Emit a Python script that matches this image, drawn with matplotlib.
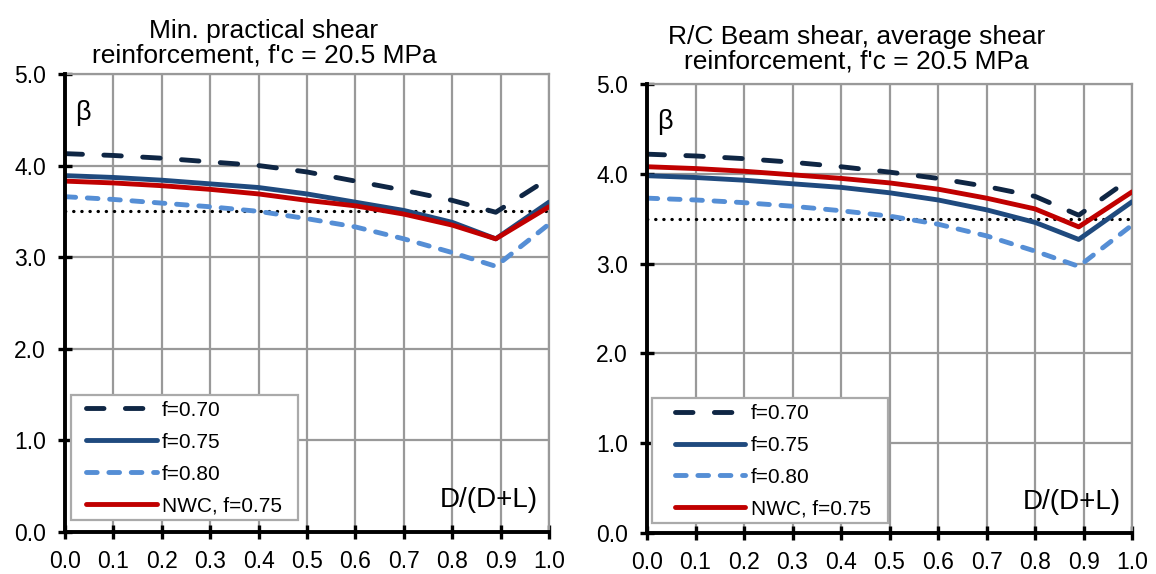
import numpy as np
import matplotlib.pyplot as plt
from matplotlib.patches import Rectangle

plt.rcParams['font.family'] = ['Liberation Sans', 'DejaVu Sans']

# D/(D+L) points
x = [0.0, 0.1, 0.2, 0.3, 0.4, 0.5, 0.6, 0.7, 0.8, 0.89, 1.0]

# left: min. practical shear reinforcement
left_f070 = [4.13, 4.11, 4.08, 4.04, 4.00, 3.93, 3.83, 3.73, 3.62, 3.49, 3.86]
left_f075 = [3.89, 3.87, 3.84, 3.80, 3.76, 3.69, 3.60, 3.51, 3.38, 3.20, 3.60]
left_f080 = [3.66, 3.63, 3.59, 3.55, 3.50, 3.42, 3.33, 3.20, 3.05, 2.90, 3.36]
left_nwc = [3.83, 3.81, 3.78, 3.74, 3.69, 3.62, 3.56, 3.47, 3.35, 3.20, 3.55]

# right: average shear reinforcement
right_f070 = [4.22, 4.20, 4.17, 4.13, 4.08, 4.02, 3.95, 3.86, 3.75, 3.54, 3.96]
right_f075 = [3.98, 3.96, 3.93, 3.89, 3.85, 3.79, 3.71, 3.60, 3.46, 3.27, 3.69]
right_f080 = [3.73, 3.71, 3.68, 3.64, 3.59, 3.53, 3.44, 3.31, 3.14, 2.97, 3.43]
right_nwc = [4.08, 4.06, 4.03, 3.99, 3.95, 3.90, 3.83, 3.73, 3.61, 3.41, 3.80]

target = 3.5
labels = ["f=0.70", "f=0.75", "f=0.80", "NWC, f=0.75"]
titles = ["Min. practical shear\nreinforcement, f'c = 20.5 MPa",
          "R/C Beam shear, average shear\nreinforcement, f'c = 20.5 MPa"]

fig = plt.figure(figsize=(11.56, 5.74), dpi=100)
ax1 = fig.add_axes([0.0562, 0.0732, 0.4187, 0.798])
ax2 = fig.add_axes([0.5597, 0.0714, 0.4196, 0.782])

# legend placement per panel: (handle x, text bottom y), frame (x0, y0, x1, y1)
leg_anchor = [(0.043, 0.036), (0.057, 0.032)]
leg_frame = [(0.0117, 0.026, 0.4814, 0.299), (0.0097, 0.0216, 0.497, 0.300)]
title_pad = [8, 11]
title_x = [0.411, 0.432]

lw = 3.5
panels = [(ax1, [left_f070, left_f075, left_f080, left_nwc]),
          (ax2, [right_f070, right_f075, right_f080, right_nwc])]
for i, (ax, data) in enumerate(panels):
    ax.plot([0, 1], [target, target], color='black', lw=2.3, ls=(0, (0.1, 2.45)),
            dash_capstyle='round', zorder=3)
    ax.plot(x, data[0], color='#0f2644', lw=lw, ls=(0, (3.6, 4.4)),
            dash_capstyle='round', label=labels[0], zorder=4)
    ax.plot(x, data[1], color='#1f4a7e', lw=lw, solid_capstyle='round',
            label=labels[1], zorder=4)
    ax.plot(x, data[2], color='#558ed5', lw=lw, ls=(0, (2.2, 2.4)),
            dash_capstyle='round', label=labels[2], zorder=4)
    ax.plot(x, data[3], color='#c00000', lw=lw, solid_capstyle='round',
            label=labels[3], zorder=5)

    ax.set_xlim(0, 1)
    ax.set_ylim(0, 5)
    ax.set_xticks(np.arange(0, 1.01, 0.1))
    ax.set_yticks(np.arange(0, 5.01, 1.0))
    ax.xaxis.set_major_formatter(plt.FormatStrFormatter('%.1f'))
    ax.yaxis.set_major_formatter(plt.FormatStrFormatter('%.1f'))
    ax.grid(True, color='#999999', lw=1.6)
    ax.set_axisbelow(True)
    ax.tick_params(direction='inout', length=9.5, width=2.4, labelsize=16.5)
    ax.tick_params(axis='y', pad=9)
    ax.tick_params(axis='x', pad=8)
    for s in ['left', 'bottom']:
        ax.spines[s].set_color('black')
        ax.spines[s].set_linewidth(2.8)
        ax.spines[s].set_zorder(6)
    for s in ['top', 'right']:
        ax.spines[s].set_color('#999999')
        ax.spines[s].set_linewidth(1.6)
    ax.set_title(titles[i], fontsize=19, linespacing=1.06, pad=title_pad[i],
                 x=title_x[i])
    ax.text(0.021, 0.915, "β", transform=ax.transAxes, fontsize=19.5, va='center')
    ax.text(0.977, 0.07, "D/(D+L)", transform=ax.transAxes, fontsize=20,
            ha='right', va='center')

    fx0, fy0, fx1, fy1 = leg_frame[i]
    ax.add_patch(Rectangle((fx0, fy0), fx1 - fx0, fy1 - fy0, transform=ax.transAxes,
                           facecolor='white', edgecolor='#aaaaaa', lw=1.6, zorder=7))
    leg = ax.legend(loc='lower left', bbox_to_anchor=leg_anchor[i], fontsize=15,
                    handlelength=3.4, handletextpad=0.25, labelspacing=0.62,
                    borderpad=0, borderaxespad=0, frameon=False)
    leg.set_zorder(8)

fig.savefig('out.png', dpi=100)
